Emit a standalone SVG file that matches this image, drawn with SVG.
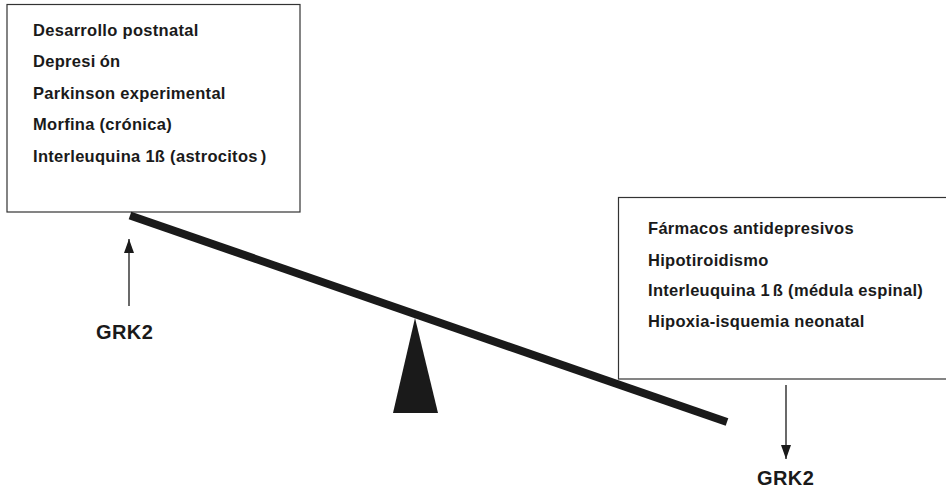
<svg xmlns="http://www.w3.org/2000/svg" width="946" height="489" viewBox="0 0 946 489">
<defs>
<style>
.box{fill:#fff;stroke:#333;stroke-width:1.2}
.t{font-family:"Liberation Sans",Arial,sans-serif;font-weight:bold;font-size:16.5px;fill:#1a1a1a;letter-spacing:0.3px}
.g{font-family:"Liberation Sans",Arial,sans-serif;font-weight:bold;font-size:20px;fill:#1a1a1a;letter-spacing:0.4px}
.arr{stroke:#1a1a1a;stroke-width:1.3;fill:none}
</style>
<marker id="ah" viewBox="0 0 14 10" refX="14" refY="5" markerWidth="14" markerHeight="10" markerUnits="userSpaceOnUse" orient="auto">
<path d="M0,0 L14,5 L0,10 z" fill="#1a1a1a"/>
</marker>
</defs>
<rect width="946" height="489" fill="#fff"/>
<g id="box-left">
<rect class="box" x="7" y="4.5" width="293" height="207.5"/>
<text class="t" x="33" y="36">Desarrollo postnatal</text>
<text class="t" x="33" y="67">Depresi<tspan dx="4">ón</tspan></text>
<text class="t" x="33" y="99">Parkinson experimental</text>
<text class="t" x="33" y="130">Morfina (crónica)</text>
<text class="t" x="33" y="162">Interleuquina 1ß (astrocitos<tspan dx="3">)</tspan></text>
</g>
<g id="box-right">
<rect class="box" x="618.5" y="197.5" width="340" height="181.5"/>
<text class="t" x="648" y="234">Fármacos antidepresivos</text>
<text class="t" x="648" y="266">Hipotiroidismo</text>
<text class="t" x="648" y="296">Interleuquina 1<tspan dx="3">ß (médula espinal)</tspan></text>
<text class="t" x="648" y="327">Hipoxia-isquemia neonatal</text>
</g>
<g id="balance">
<polygon points="415,318 393,413 438,413" fill="#1a1a1a"/>
<line x1="130" y1="215.5" x2="727" y2="422" stroke="#1a1a1a" stroke-width="8"/>
</g>
<g id="grk2-left">
<text class="g" x="96" y="339">GRK2</text>
</g>
<g id="grk2-right">
<text class="g" x="757" y="485">GRK2</text>
</g>
<g id="connectors">
<line class="arr" x1="129" y1="306" x2="129" y2="239" marker-end="url(#ah)"/>
<line class="arr" x1="786" y1="385" x2="786" y2="459" marker-end="url(#ah)"/>
</g>
</svg>
